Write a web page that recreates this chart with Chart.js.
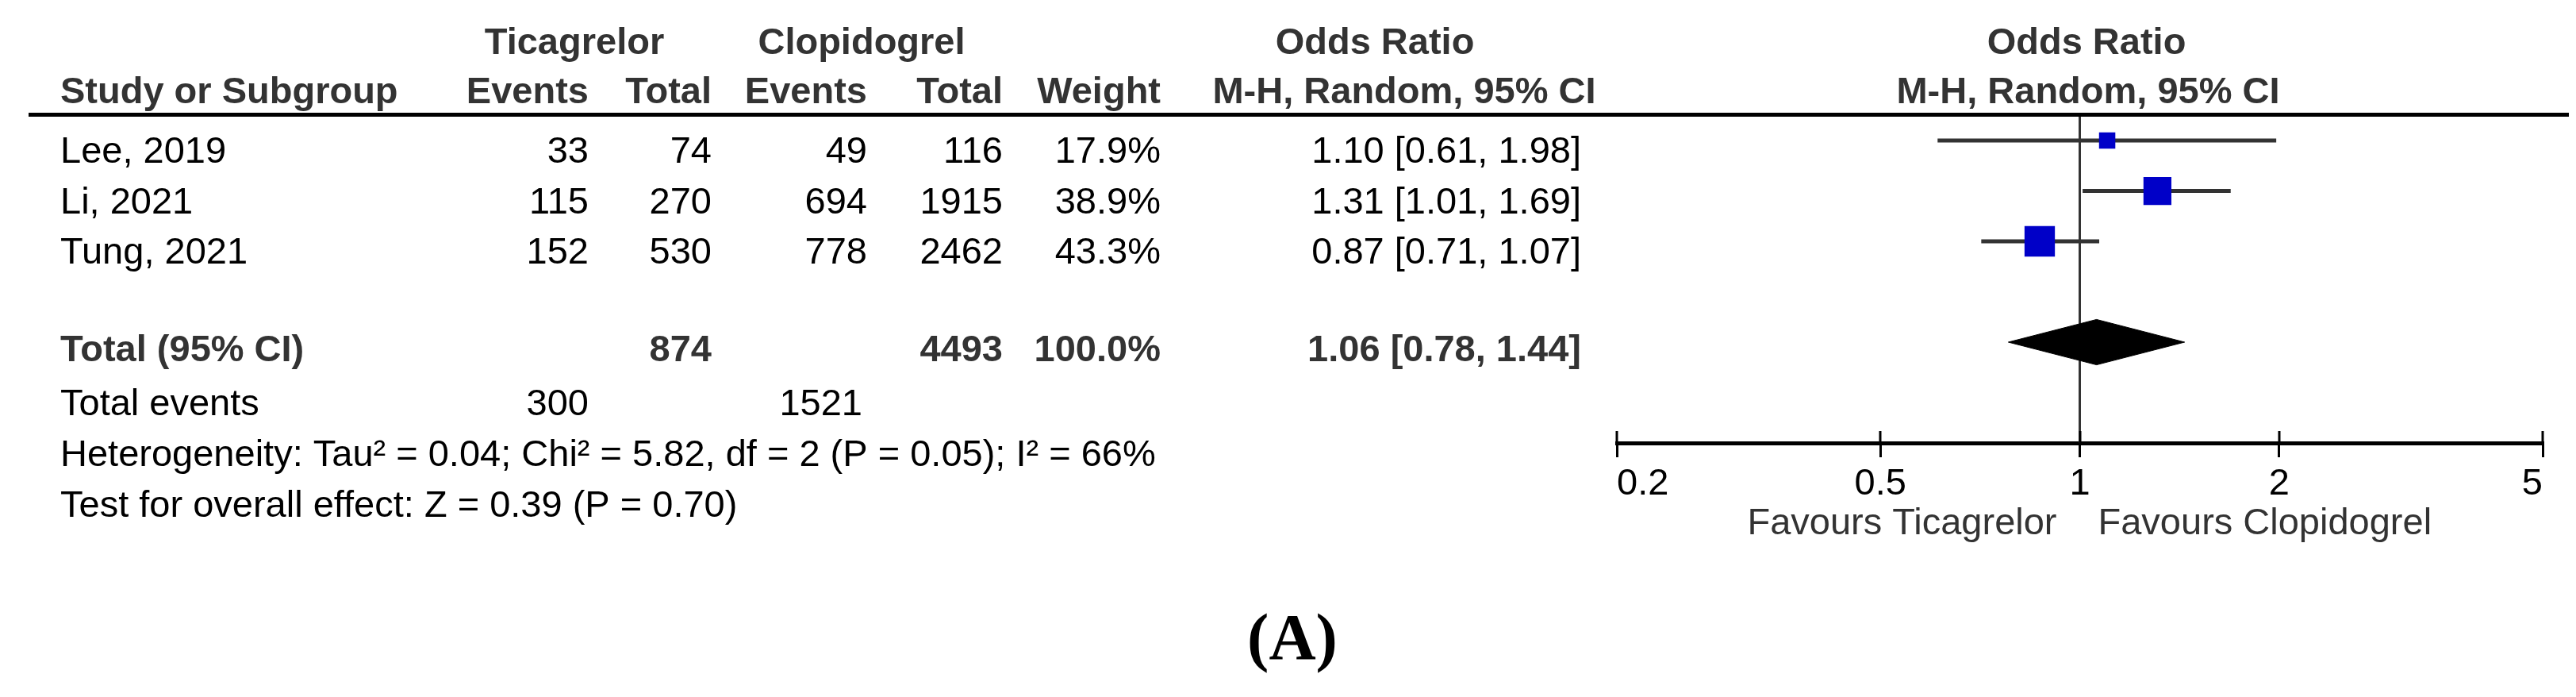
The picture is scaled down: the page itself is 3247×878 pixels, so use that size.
<!DOCTYPE html>
<html>
<head>
<meta charset="utf-8">
<script src="https://cdn.jsdelivr.net/npm/chart.js@4.4.1/dist/chart.umd.min.js"></script>
<style>
  html, body { margin: 0; padding: 0; background: #fff; }
  #wrap { width: 3247px; height: 878px; position: relative; }
</style>
</head>
<body>
<div id="wrap"><canvas id="forestChart"></canvas></div>
<script>
// study data
const studies = ['Lee, 2019', 'Li, 2021', 'Tung, 2021'];
const ticEvents = [33, 115, 152];
const ticTotal = [74, 270, 530];
const cloEvents = [49, 694, 778];
const cloTotal = [116, 1915, 2462];
const weights = [17.9, 38.9, 43.3];
const oddsRatio = [1.10, 1.31, 0.87];
const ciLow = [0.61, 1.01, 0.71];
const ciHigh = [1.98, 1.69, 1.07];

// pooled result
const pooled = [1.06, 0.78, 1.44]; // OR, low, high
const pooledTotals = [874, 4493];
const totalEvents = [300, 1521];

const axisTicks = [0.2, 0.5, 1, 2, 5];
const axisTickLabels = ['0.2', '0.5', '1', '2', '5'];

const FONT = '"Liberation Sans", Arial, sans-serif';
const pooledRow = 4;

function txt(ctx, s, x, y, align, bold, color) {
  ctx.font = (bold ? 'bold ' : '') + '47px ' + FONT;
  ctx.fillStyle = color;
  ctx.textAlign = align;
  ctx.textBaseline = 'alphabetic';
  ctx.fillText(s, x, y);
}

const fmtCI = (o, l, h) => o.toFixed(2) + ' [' + l.toFixed(2) + ', ' + h.toFixed(2) + ']';

const tablePlugin = {
  id: 'forestTable',
  afterDraw(chart) {
    const ctx = chart.ctx;
    const xs = chart.scales.x, ys = chart.scales.y;
    ctx.save();

    // header rule
    ctx.fillStyle = '#000';
    ctx.fillRect(36, 142, 3202, 5);

    // upper half of axis ticks
    ctx.strokeStyle = '#000';
    ctx.lineWidth = 3;
    axisTicks.forEach(v => {
      const px = Math.round(xs.getPixelForValue(v));
      ctx.beginPath();
      ctx.moveTo(px, xs.top - 15);
      ctx.lineTo(px, xs.top);
      ctx.stroke();
    });

    const hc = '#333';
    // column headers
    txt(ctx, 'Ticagrelor', 724, 68, 'center', true, hc);
    txt(ctx, 'Clopidogrel', 1086, 68, 'center', true, hc);
    txt(ctx, 'Odds Ratio', 1733, 68, 'center', true, hc);
    txt(ctx, 'Odds Ratio', 2630, 68, 'center', true, hc);
    txt(ctx, 'Study or Subgroup', 76, 130, 'left', true, hc);
    txt(ctx, 'Events', 742, 130, 'right', true, hc);
    txt(ctx, 'Total', 897, 130, 'right', true, hc);
    txt(ctx, 'Events', 1093, 130, 'right', true, hc);
    txt(ctx, 'Total', 1264, 130, 'right', true, hc);
    txt(ctx, 'Weight', 1463, 130, 'right', true, hc);
    txt(ctx, 'M-H, Random, 95% CI', 1770, 130, 'center', true, hc);
    txt(ctx, 'M-H, Random, 95% CI', 2632, 130, 'center', true, hc);

    // study rows
    studies.forEach((s, i) => {
      const y = ys.getPixelForValue(i) + 28;
      txt(ctx, s, 76, y, 'left', false, '#000');
      txt(ctx, String(ticEvents[i]), 742, y, 'right', false, '#000');
      txt(ctx, String(ticTotal[i]), 897, y, 'right', false, '#000');
      txt(ctx, String(cloEvents[i]), 1093, y, 'right', false, '#000');
      txt(ctx, String(cloTotal[i]), 1264, y, 'right', false, '#000');
      txt(ctx, weights[i].toFixed(1) + '%', 1463, y, 'right', false, '#000');
      txt(ctx, fmtCI(oddsRatio[i], ciLow[i], ciHigh[i]), 1993, y, 'right', false, '#000');
    });

    // pooled row
    const yt = ys.getPixelForValue(pooledRow) + 24;
    txt(ctx, 'Total (95% CI)', 76, yt, 'left', true, hc);
    txt(ctx, String(pooledTotals[0]), 897, yt, 'right', true, hc);
    txt(ctx, String(pooledTotals[1]), 1264, yt, 'right', true, hc);
    txt(ctx, '100.0%', 1463, yt, 'right', true, hc);
    txt(ctx, fmtCI(pooled[0], pooled[1], pooled[2]), 1993, yt, 'right', true, hc);

    const ye = ys.getPixelForValue(5) + 28;
    txt(ctx, 'Total events', 76, ye, 'left', false, '#000');
    txt(ctx, String(totalEvents[0]), 742, ye, 'right', false, '#000');
    txt(ctx, String(totalEvents[1]), 1087, ye, 'right', false, '#000');
    txt(ctx, 'Heterogeneity: Tau\u00b2 = 0.04; Chi\u00b2 = 5.82, df = 2 (P = 0.05); I\u00b2 = 66%', 76, ye + 64, 'left', false, '#000');
    txt(ctx, 'Test for overall effect: Z = 0.39 (P = 0.70)', 76, ye + 128, 'left', false, '#000');

    // favours labels
    const x1 = xs.getPixelForValue(1);
    txt(ctx, 'Favours Ticagrelor', x1 - 29, 673, 'right', false, hc);
    txt(ctx, 'Favours Clopidogrel', x1 + 23, 673, 'left', false, hc);

    // panel label
    ctx.font = 'bold 82px "Liberation Serif", "Times New Roman", serif';
    ctx.fillStyle = '#000';
    ctx.textAlign = 'center';
    ctx.fillText('(A)', 1629, 830);

    ctx.restore();
  }
};

const whiskerSets = studies.map((s, i) => ({
  label: s,
  data: [{ x: ciLow[i], y: i }, { x: ciHigh[i], y: i }],
  showLine: true,
  borderColor: '#333',
  borderWidth: 5,
  pointRadius: 0
}));

new Chart(document.getElementById('forestChart'), {
  type: 'scatter',
  data: {
    datasets: [
      {
        label: 'OR',
        data: studies.map((s, i) => ({ x: oddsRatio[i], y: i })),
        pointStyle: 'rect',
        pointRadius: weights.map(w => (8 + 0.7 * w) / Math.SQRT2),
        backgroundColor: '#0000c8',
        borderWidth: 0
      },
      ...whiskerSets,
      {
        label: 'pooled top',
        data: [{ x: pooled[1], y: pooledRow }, { x: pooled[0], y: pooledRow - 0.45 }, { x: pooled[2], y: pooledRow }],
        showLine: true,
        borderColor: '#000',
        borderWidth: 1,
        pointRadius: 0
      },
      {
        label: 'pooled bottom',
        data: [{ x: pooled[1], y: pooledRow }, { x: pooled[0], y: pooledRow + 0.45 }, { x: pooled[2], y: pooledRow }],
        showLine: true,
        borderColor: '#000',
        borderWidth: 1,
        pointRadius: 0,
        fill: '-1',
        backgroundColor: '#000'
      },
      {
        label: 'no effect',
        data: [{ x: 1, y: -0.52 }, { x: 1, y: 6 }],
        showLine: true,
        borderColor: '#333',
        borderWidth: 3,
        pointRadius: 0
      }
    ]
  },
  options: {
    responsive: true,
    maintainAspectRatio: false,
    devicePixelRatio: 1,
    animation: false,
    layout: { padding: { left: 2038, right: 42, top: 144, bottom: 0 } },
    plugins: {
      legend: { display: false },
      tooltip: { enabled: false }
    },
    scales: {
      x: {
        type: 'logarithmic',
        min: 0.2,
        max: 5,
        position: 'bottom',
        afterBuildTicks: s => { s.ticks = axisTicks.map(v => ({ value: v })); },
        afterFit: s => { s.height = 320; },
        border: { display: true, color: '#000', width: 5 },
        grid: { drawOnChartArea: false, drawTicks: true, tickLength: 18, tickWidth: 3, tickColor: '#000', color: '#000', lineWidth: 3 },
        ticks: {
          autoSkip: false,
          maxRotation: 0,
          minRotation: 0,
          align: 'inner',
          padding: 6,
          color: '#000',
          font: { family: FONT, size: 47 },
          callback: (v, i) => axisTickLabels[i]
        }
      },
      y: {
        type: 'linear',
        display: false,
        min: -0.52,
        max: 6,
        reverse: true
      }
    }
  },
  plugins: [tablePlugin]
});
</script>
</body>
</html>
